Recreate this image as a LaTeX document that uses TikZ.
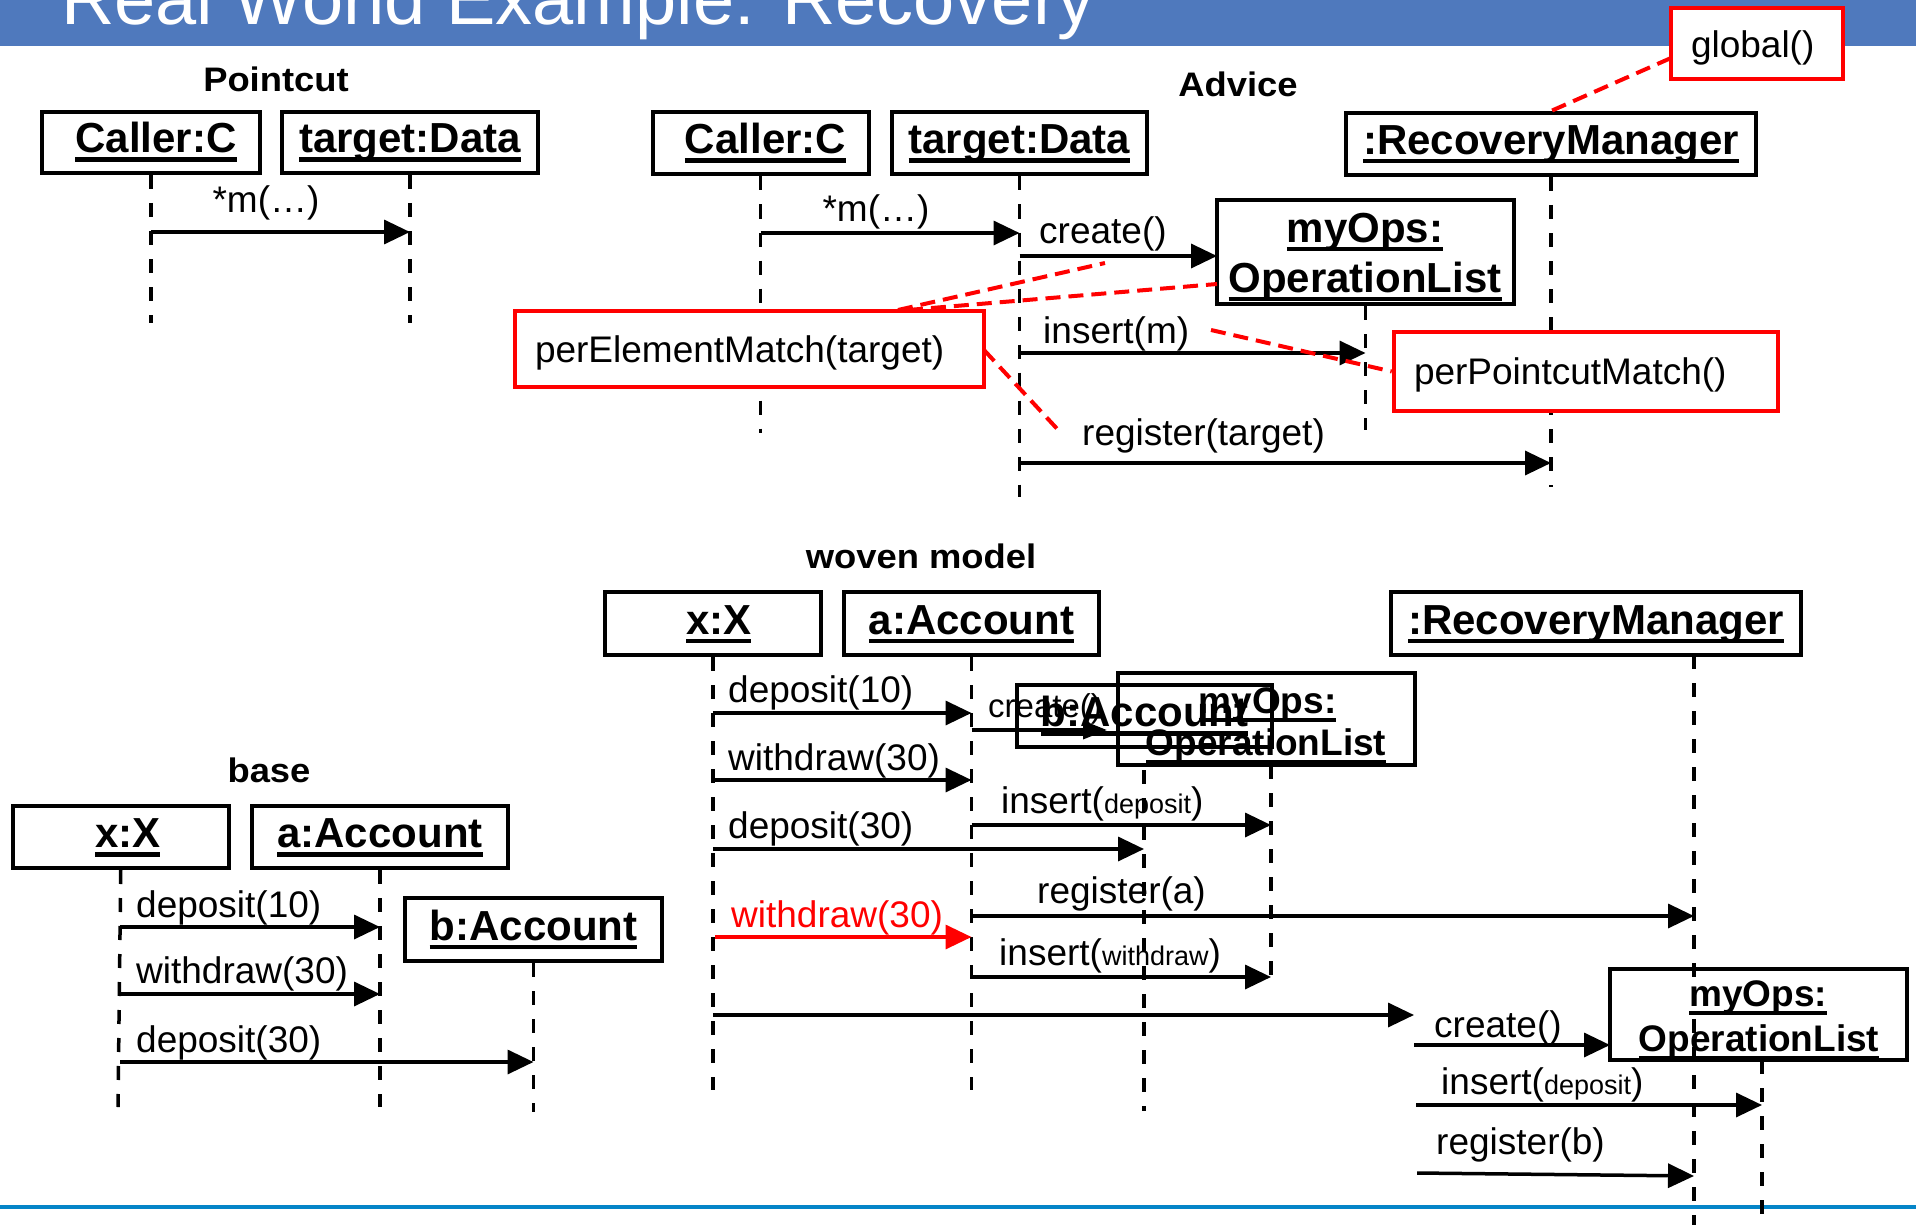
\documentclass[tikz,border=0pt]{standalone}
\usepackage{fontspec}
\setmainfont{Liberation Sans}
\usetikzlibrary{arrows.meta}
\definecolor{titleblue}{RGB}{79,121,189}
\definecolor{lineblue}{RGB}{5,133,200}
\definecolor{notered}{RGB}{255,0,0}
\newsavebox\ulbox
\newcommand\ulx[1]{\sbox\ulbox{#1}\rlap{\rule[-9pt]{\wd\ulbox}{4.5pt}}\usebox\ulbox}
\newcommand\fsz[1]{\fontsize{#1}{#1}\selectfont}
\tikzset{
  obj/.style={draw, line width=4pt, inner sep=0pt, font={\fsz{42}\bfseries}, text height=30pt, text depth=9pt},
  objtxt/.style={anchor=base, inner sep=0pt, font={\fsz{#1}\bfseries}},
  note/.style={draw=notered, fill=white, line width=4.5pt, inner sep=0pt, inner xsep=20pt, font={\fsz{37}}, align=left, text height=26pt, text depth=0pt},
  life/.style={line width=3.5pt, dash pattern=on 14pt off 14pt},
  msg/.style={line width=3.5pt, -{Triangle[length=26pt,width=24pt]}},
  smallmsg/.style={line width=3.5pt, -{Triangle[length=24pt,width=18pt]}},
  lbl/.style={anchor=base west, inner sep=0pt, font={\fsz{37}}},
  sect/.style={anchor=base, inner sep=0pt, font={\fsz{34}\bfseries}},
  reddash/.style={draw=notered, line width=4pt, dash pattern=on 15pt off 8pt},
}
\begin{document}
\begin{tikzpicture}[x=1pt,y=-1pt]
\useasboundingbox (0,0) rectangle (1916,1225);
\clip (0,0) rectangle (1916,1225);
\fill[white] (0,0) rectangle (1916,1225);
% title bar
\fill[titleblue] (0,0) rectangle (1916,45.7);
\node[anchor=base west, inner sep=0pt, text=white, font={\fsz{74}}] (title) at (61,25) {Real World Example: Recovery};
% bottom line
\coordinate (bl1) at (0,1207); \coordinate (bl2) at (1916,1207);
\draw[lineblue, line width=4.5pt] (bl1) -- (bl2);

% ================= Pointcut =================
\node[sect] (ptitle) at (276,92) {\scalebox{1.07}[1]{Pointcut}};
\node[obj, minimum width=218pt, minimum height=61pt] (pc) at (151,142.5) {\hspace*{10pt}\ulx{Caller:C}};
\node[obj, minimum width=256pt, minimum height=61pt] (pt) at (410,142.5) {\ulx{target:Data}};
\coordinate (pcE) at (151,323); \coordinate (ptE) at (410,323);
\draw[life] (pc.south) -- (pcE);
\draw[life] (pt.south) -- (ptE);
\coordinate (pm1a) at (151,232); \coordinate (pm1b) at (410,232);
\draw[msg] (pm1a) -- (pm1b);
\node[lbl, anchor=base] (pm1l) at (266,212) {*m(…)};

% ================= Advice =================
\node[sect] (atitle) at (1238,97) {\scalebox{1.07}[1]{Advice}};
\node[obj, minimum width=216pt, minimum height=62pt] (ac) at (760.5,143.5) {\hspace*{10pt}\ulx{Caller:C}};
\node[obj, minimum width=255pt, minimum height=62pt] (at) at (1019.5,143.5) {\ulx{target:Data}};
\node[obj, minimum width=410pt, minimum height=62pt] (arm) at (1551,144) {\ulx{:RecoveryManager}};
\node[obj, minimum width=297pt, minimum height=104pt] (amo) at (1365.5,252) {};
\node[objtxt=42] (amo1) at (1365,242) {\ulx{myOps:}};
\node[objtxt=42] (amo2) at (1365,292) {\ulx{OperationList}};
\coordinate (acE) at (760.5,433); \coordinate (atE) at (1019.5,497);
\coordinate (armE) at (1551,487); \coordinate (amoE) at (1365.5,430);
\draw[life] (ac.south) -- (acE);
\draw[life] (at.south) -- (atE);
\draw[life] (arm.south) -- (armE);
\draw[life] (amo.south) -- (amoE);
\coordinate (a1s) at (760.5,233); \coordinate (a1e) at (1019.5,233);
\draw[msg] (a1s) -- (a1e);
\node[lbl, anchor=base] (a1l) at (876,222) {*m(…)};
\coordinate (a2s) at (1019.5,256); \coordinate (a2e) at (1217,256);
\draw[msg] (a2s) -- (a2e);
\node[lbl] (a2l) at (1039,243) {create()};
\coordinate (a3s) at (1019.5,353); \coordinate (a3e) at (1365.5,353);
\draw[msg] (a3s) -- (a3e);
\node[lbl] (a3l) at (1043,343) {insert(m)};
\coordinate (a4s) at (1019.5,463); \coordinate (a4e) at (1551,463);
\draw[msg] (a4s) -- (a4e);
\node[lbl] (a4l) at (1082,445) {register(target)};
% notes
\node[note, text width=429pt, minimum height=76pt] (pe) at (749.5,349) {perElementMatch(target)};
\node[note, text width=344pt, minimum height=79pt] (ppm) at (1586,371.5) {perPointcutMatch()};
\node[note, text width=132pt, minimum height=71pt, text height=29pt] (gl) at (1757,43.5) {global()};
\coordinate (pe1) at (898,310); \coordinate (pe1e) at (1105,263);
\coordinate (pe2) at (908,310); \coordinate (pe2e) at (1217,284);
\coordinate (pe3) at (984,350); \coordinate (pe3e) at (1061,433);
\coordinate (ppm1) at (1211,330);
\coordinate (gl1) at (1671,58);
\draw[reddash] (pe1) -- (pe1e);
\draw[reddash] (pe2) -- (pe2e);
\draw[reddash] (pe3) -- (pe3e);
\draw[reddash] (ppm1) -- (ppm.west);
\draw[reddash] (gl1) -- (arm.north);

% ================= Woven model =================
\node[sect] (wtitle) at (921,568) {\scalebox{1.07}[1]{woven model}};
\node[obj, minimum width=216.5pt, minimum height=63pt] (wx) at (712.75,623.5) {\hspace*{12pt}\ulx{x:X}};
\node[obj, minimum width=255pt, minimum height=63pt] (wa) at (971.5,623.5) {\ulx{a:Account}};
\node[obj, minimum width=410pt, minimum height=63pt] (wrm) at (1596,623.5) {\ulx{:RecoveryManager}};
\node[obj, minimum width=255pt, minimum height=62pt] (wb) at (1144.5,716) {\ulx{b:Account}};
\node[obj, minimum width=297pt, minimum height=92pt] (wmo) at (1266.5,719) {};
\node[objtxt=37] (wmo1) at (1267.5,713) {\ulx{myOps:}};
\node[objtxt=37] (wmo2) at (1266,755) {\ulx{OperationList}};
\node[obj, minimum width=297pt, minimum height=91pt] (wmb) at (1758.5,1014.5) {};
\node[objtxt=37] (wmb1) at (1758,1006) {\ulx{myOps:}};
\node[objtxt=37] (wmb2) at (1759,1051) {\ulx{OperationList}};
\coordinate (wxE) at (712.75,1090); \coordinate (waE) at (971.5,1090);
\coordinate (wrmS) at (1694,655); \coordinate (wrmE) at (1694,1225);
\coordinate (wbS) at (1144,770); \coordinate (wbE) at (1144,1111);
\coordinate (wmoS) at (1271,765); \coordinate (wmoE) at (1271,984);
\coordinate (wmbS) at (1762,1060); \coordinate (wmbE) at (1762,1225);
\draw[life] (wx.south) -- (wxE);
\draw[life] (wa.south) -- (waE);
\draw[life] (wrmS) -- (wrmE);
\draw[life] (wbS) -- (wbE);
\draw[life] (wmoS) -- (wmoE);
\draw[life] (wmbS) -- (wmbE);
% messages
\coordinate (w1s) at (712.75,713); \coordinate (w1e) at (971.5,713);
\draw[msg] (w1s) -- (w1e);
\node[lbl] (w1l) at (728,702) {deposit(10)};
\coordinate (w2s) at (712.75,780); \coordinate (w2e) at (971.5,780);
\draw[msg] (w2s) -- (w2e);
\node[lbl] (w2l) at (728,770) {withdraw(30)};
\coordinate (w3s) at (712.75,849); \coordinate (w3e) at (1144,849);
\draw[msg] (w3s) -- (w3e);
\node[lbl] (w3l) at (728,838) {deposit(30)};
\coordinate (w4s) at (715,937); \coordinate (w4e) at (971.5,937);
\draw[msg, notered] (w4s) -- (w4e);
\node[lbl, text=notered] (w4l) at (731,927) {withdraw(30)};
\coordinate (w5s) at (971.5,730); \coordinate (w5e) at (1107,730);
\draw[smallmsg] (w5s) -- (w5e);
\node[lbl, font={\fsz{33}}] (w5l) at (988,717) {create()};
\coordinate (w6s) at (971.5,825); \coordinate (w6e) at (1271,825);
\draw[msg] (w6s) -- (w6e);
\node[lbl] (w6l) at (1001,813) {insert({\fsz{27}deposit})};
\coordinate (w7s) at (971.5,916); \coordinate (w7e) at (1694,916);
\draw[msg] (w7s) -- (w7e);
\node[lbl] (w7l) at (1037,903) {register(a)};
\coordinate (w8s) at (971.5,977); \coordinate (w8e) at (1271,977);
\draw[msg] (w8s) -- (w8e);
\node[lbl] (w8l) at (999,965) {insert({\fsz{27}withdraw})};
\coordinate (w9s) at (712.75,1015); \coordinate (w9e) at (1414,1015);
\draw[msg] (w9s) -- (w9e);
\coordinate (w10s) at (1414,1045); \coordinate (w10e) at (1610,1045);
\draw[msg] (w10s) -- (w10e);
\node[lbl] (w10l) at (1434,1037) {create()};
\coordinate (w11s) at (1416,1105); \coordinate (w11e) at (1762,1105);
\draw[msg] (w11s) -- (w11e);
\node[lbl] (w11l) at (1441,1094) {insert({\fsz{27}deposit})};
\coordinate (w12s) at (1417,1173); \coordinate (w12e) at (1694,1176);
\draw[msg] (w12s) -- (w12e);
\node[lbl] (w12l) at (1436,1154) {register(b)};

% ================= Base =================
\node[sect] (btitle) at (269,782) {\scalebox{1.07}[1]{base}};
\node[obj, minimum width=216.5pt, minimum height=62pt] (bx) at (120.75,837) {\hspace*{14pt}\ulx{x:X}};
\node[obj, minimum width=256pt, minimum height=62pt] (ba) at (380,837) {\ulx{a:Account}};
\node[obj, minimum width=257pt, minimum height=63pt] (bb) at (533.5,929.5) {\ulx{b:Account}};
\coordinate (bxE) at (118,1107); \coordinate (baE) at (380,1107); \coordinate (bbE) at (533.5,1112);
\draw[life] (bx.south) -- (bxE);
\draw[life] (ba.south) -- (baE);
\draw[life] (bb.south) -- (bbE);
\coordinate (b1s) at (120,927); \coordinate (b1e) at (380,927);
\draw[msg] (b1s) -- (b1e);
\node[lbl] (b1l) at (136,917) {deposit(10)};
\coordinate (b2s) at (120,994); \coordinate (b2e) at (380,994);
\draw[msg] (b2s) -- (b2e);
\node[lbl] (b2l) at (136,983) {withdraw(30)};
\coordinate (b3s) at (120,1062); \coordinate (b3e) at (533.5,1062);
\draw[msg] (b3s) -- (b3e);
\node[lbl] (b3l) at (136,1052) {deposit(30)};
\end{tikzpicture}
\end{document}
